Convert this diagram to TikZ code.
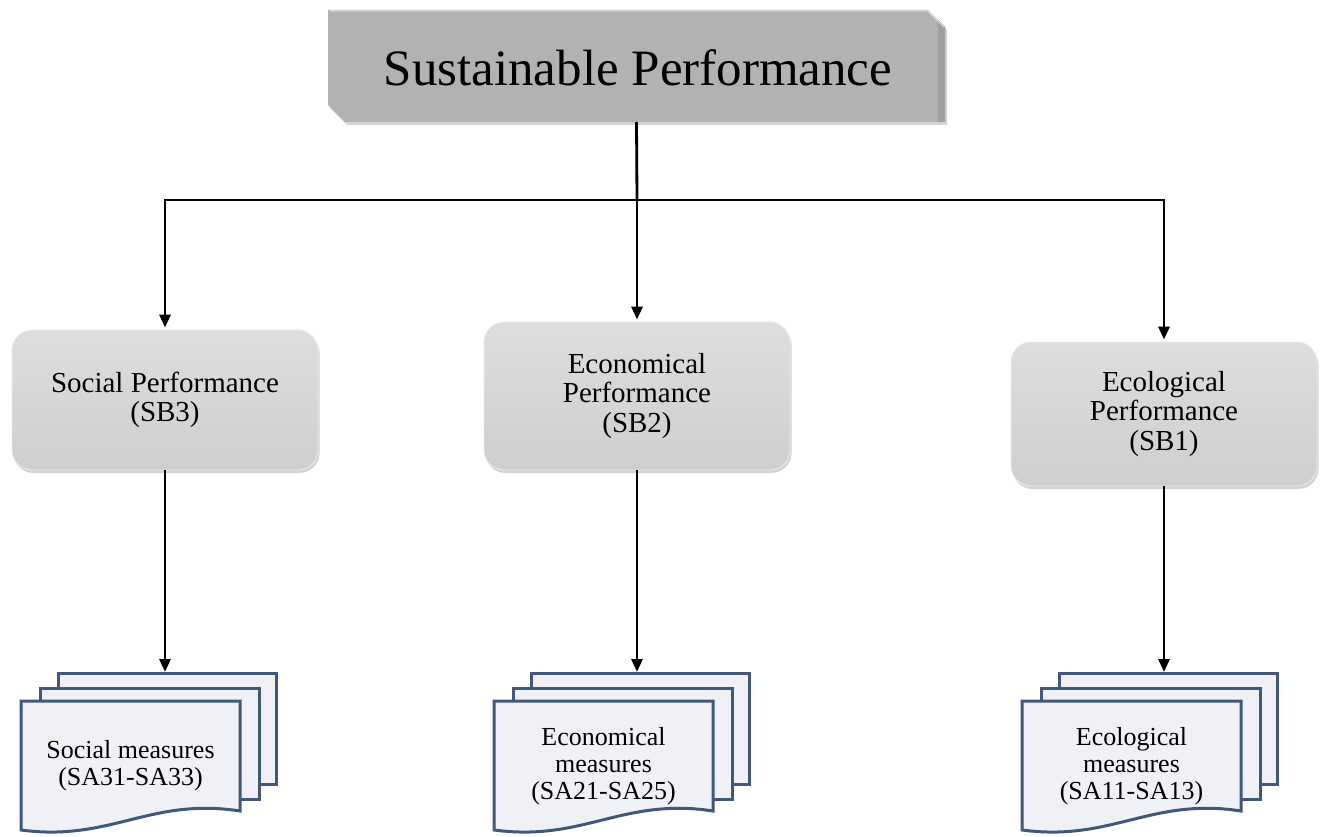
\documentclass[tikz,border=0pt]{standalone}
\usepackage{fontspec}
\setmainfont{Liberation Serif}
\usetikzlibrary{shadows,arrows.meta,calc}
\definecolor{topgray}{RGB}{178,178,178}
\definecolor{topgraydark}{RGB}{160,160,160}
\definecolor{boxtop}{RGB}{222,222,222}
\definecolor{boxbot}{RGB}{206,206,206}
\definecolor{pagefill}{RGB}{239,241,246}
\definecolor{pageedge}{RGB}{64,88,124}
\newcommand\mdocdraw[4]{% #1 name, #2 back left x, #3 top y, #4 text
  \node[page, minimum width=218pt, minimum height=111pt, anchor=north west] (#1b) at (#2,#3) {};
  \node[page, minimum width=219pt, minimum height=111pt, anchor=north west] (#1m) at ($(#2,#3)+(-18,15)$) {};
  \path[page] ($(#2,#3)+(-36,29)$) -- ++(219,0) -- ++(0,110)
     .. controls ++(-90,-14) and ++(90,12) .. ++(-219,19) -- cycle;
  \node[doctext] (#1t) at ($(#2,#3)+(-36+109.5,94)$) {#4};
}
\begin{document}
\begin{tikzpicture}[x=1pt,y=-1pt,
  conn/.style={line width=2.8pt},
  arr/.style={line width=2.8pt,-{Triangle[length=13pt,width=11pt]}},
  perf/.style={rectangle, rounded corners=20pt, top color=boxtop, bottom color=boxbot,
     draw=white!85!gray, line width=0.8pt, minimum width=306pt, inner sep=0pt,
     align=center, font=\fontsize{29}{29.5}\selectfont,
     drop shadow={shadow xshift=1.5pt, shadow yshift=-3pt, opacity=0.35}},
  page/.style={draw=pageedge, fill=pagefill, line width=3pt, inner sep=0pt},
  doctext/.style={align=center, font=\fontsize{26}{27}\selectfont, inner sep=0pt},
  ]
\useasboundingbox (0,0) rectangle (1328,837);
% top box
\path[fill=topgray, drop shadow={shadow xshift=2pt, shadow yshift=-3pt, opacity=0.35}]
  (328,10) -- (928,10) -- (945,27) -- (945,122) -- (345,122) -- (328,105) -- cycle;
\path[fill=topgraydark] (938,20) -- (945,27) -- (945,122) -- (938,122) -- cycle;
\path[draw=white!70!topgray, line width=1pt] (330,11) -- (928,11) -- (944,27);
\node[minimum width=617pt, minimum height=112pt, inner sep=0pt] (top) at (636.5,66) {};
\node[font=\fontsize{51}{57}\selectfont, anchor=base, inner sep=0pt] (toptext) at (638,86) {Sustainable Performance};
% performance boxes
\node[perf, minimum height=140pt] (soc) at (165,400) {Social Performance\\(SB3)};
\node[perf, minimum height=148pt] (econ) at (637,396) {Economical\\Performance\\(SB2)};
\node[perf, minimum height=144pt] (eco) at (1164,414) {Ecological\\Performance\\(SB1)};
% connectors top
\coordinate (j) at (637,200);
\draw[conn] (top.south) -- (j);
\draw[arr] (j) -| ($(soc.north)+(0,-2)$);
\draw[arr] (j) -| ($(eco.north)+(0,-2)$);
\draw[arr] (j) -- ($(econ.north)+(0,-2)$);
% documents
\mdocdraw{sd}{57}{672}{Social measures\\(SA31-SA33)}
\mdocdraw{ed}{530}{672}{Economical\\measures\\(SA21-SA25)}
\mdocdraw{gd}{1058}{672}{Ecological\\measures\\(SA11-SA13)}
% connectors down
\draw[arr] (soc.south) -- (soc.south |- sdb.north);
\draw[arr] (econ.south) -- (econ.south |- edb.north);
\draw[arr] (eco.south) -- (eco.south |- gdb.north);
\end{tikzpicture}
\end{document}
